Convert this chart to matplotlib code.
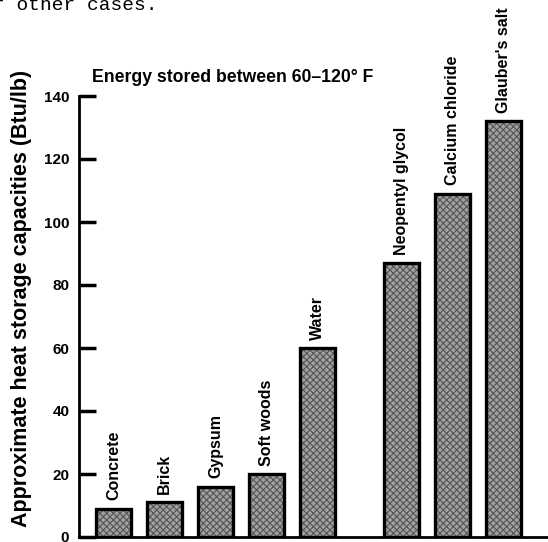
import matplotlib
matplotlib.use("Agg")
import matplotlib.pyplot as plt

# Data
materials = ["Concrete", "Brick", "Gypsum", "Soft woods", "Water",
             "Neopentyl glycol", "Calcium chloride", "Glauber's salt"]
capacity = [9, 11, 16, 20, 60, 87, 109, 132]
positions = [0, 1, 2, 3, 4, 5.65, 6.65, 7.65]
yticks = [0, 20, 40, 60, 80, 100, 120, 140]

plt.rcParams["font.family"] = ["Liberation Sans", "DejaVu Sans"]
plt.rcParams["font.weight"] = "bold"
plt.rcParams["hatch.linewidth"] = 0.8

fig = plt.figure(figsize=(5.48, 5.42), dpi=100)
ax = fig.add_axes([79 / 548, 5 / 542, 469 / 548, 441 / 542])

# textured fill, then thick black outline
ax.bar(positions, capacity, width=0.69, color="#a0a0a0", hatch="xxxxx",
       edgecolor="#555555", linewidth=0, zorder=2)
ax.bar(positions, capacity, width=0.69, fill=False, edgecolor="black",
       linewidth=2.4, zorder=3)

for x, v, name in zip(positions, capacity, materials):
    ax.annotate(name, (x, v), xytext=(0, 6), textcoords="offset points",
                rotation=90, ha="center", va="bottom", fontsize=11.5,
                fontweight="bold", annotation_clip=False)

ax.set_xlim(-0.676, 8.52)
ax.set_ylim(0, 140)
ax.set_xticks([])
ax.set_yticks(yticks)
ax.tick_params(axis="y", direction="in", length=12, width=2.5, labelsize=11, pad=7)
for lab in ax.get_yticklabels():
    lab.set_fontweight("bold")

ax.spines["top"].set_visible(False)
ax.spines["right"].set_visible(False)
ax.spines["left"].set_linewidth(2)
ax.spines["bottom"].set_linewidth(2)

fig.text(233 / 548, 1 - 77 / 542, "Energy stored between 60\u2013120\u00b0 F",
         ha="center", va="center", fontsize=12.7, fontweight="bold")
fig.text(22 / 548, 1 - 298 / 542, "Approximate heat storage capacities (Btu/lb)",
         rotation=90, ha="center", va="center", fontsize=15.5, fontweight="bold")

# clipped line of text from the scanned page above
fig.text(-0.012, 1 - 10 / 542, "r other cases.", family="Liberation Mono",
         fontsize=14, fontweight="normal", va="baseline", ha="left")

fig.savefig("out.png", dpi=100)
